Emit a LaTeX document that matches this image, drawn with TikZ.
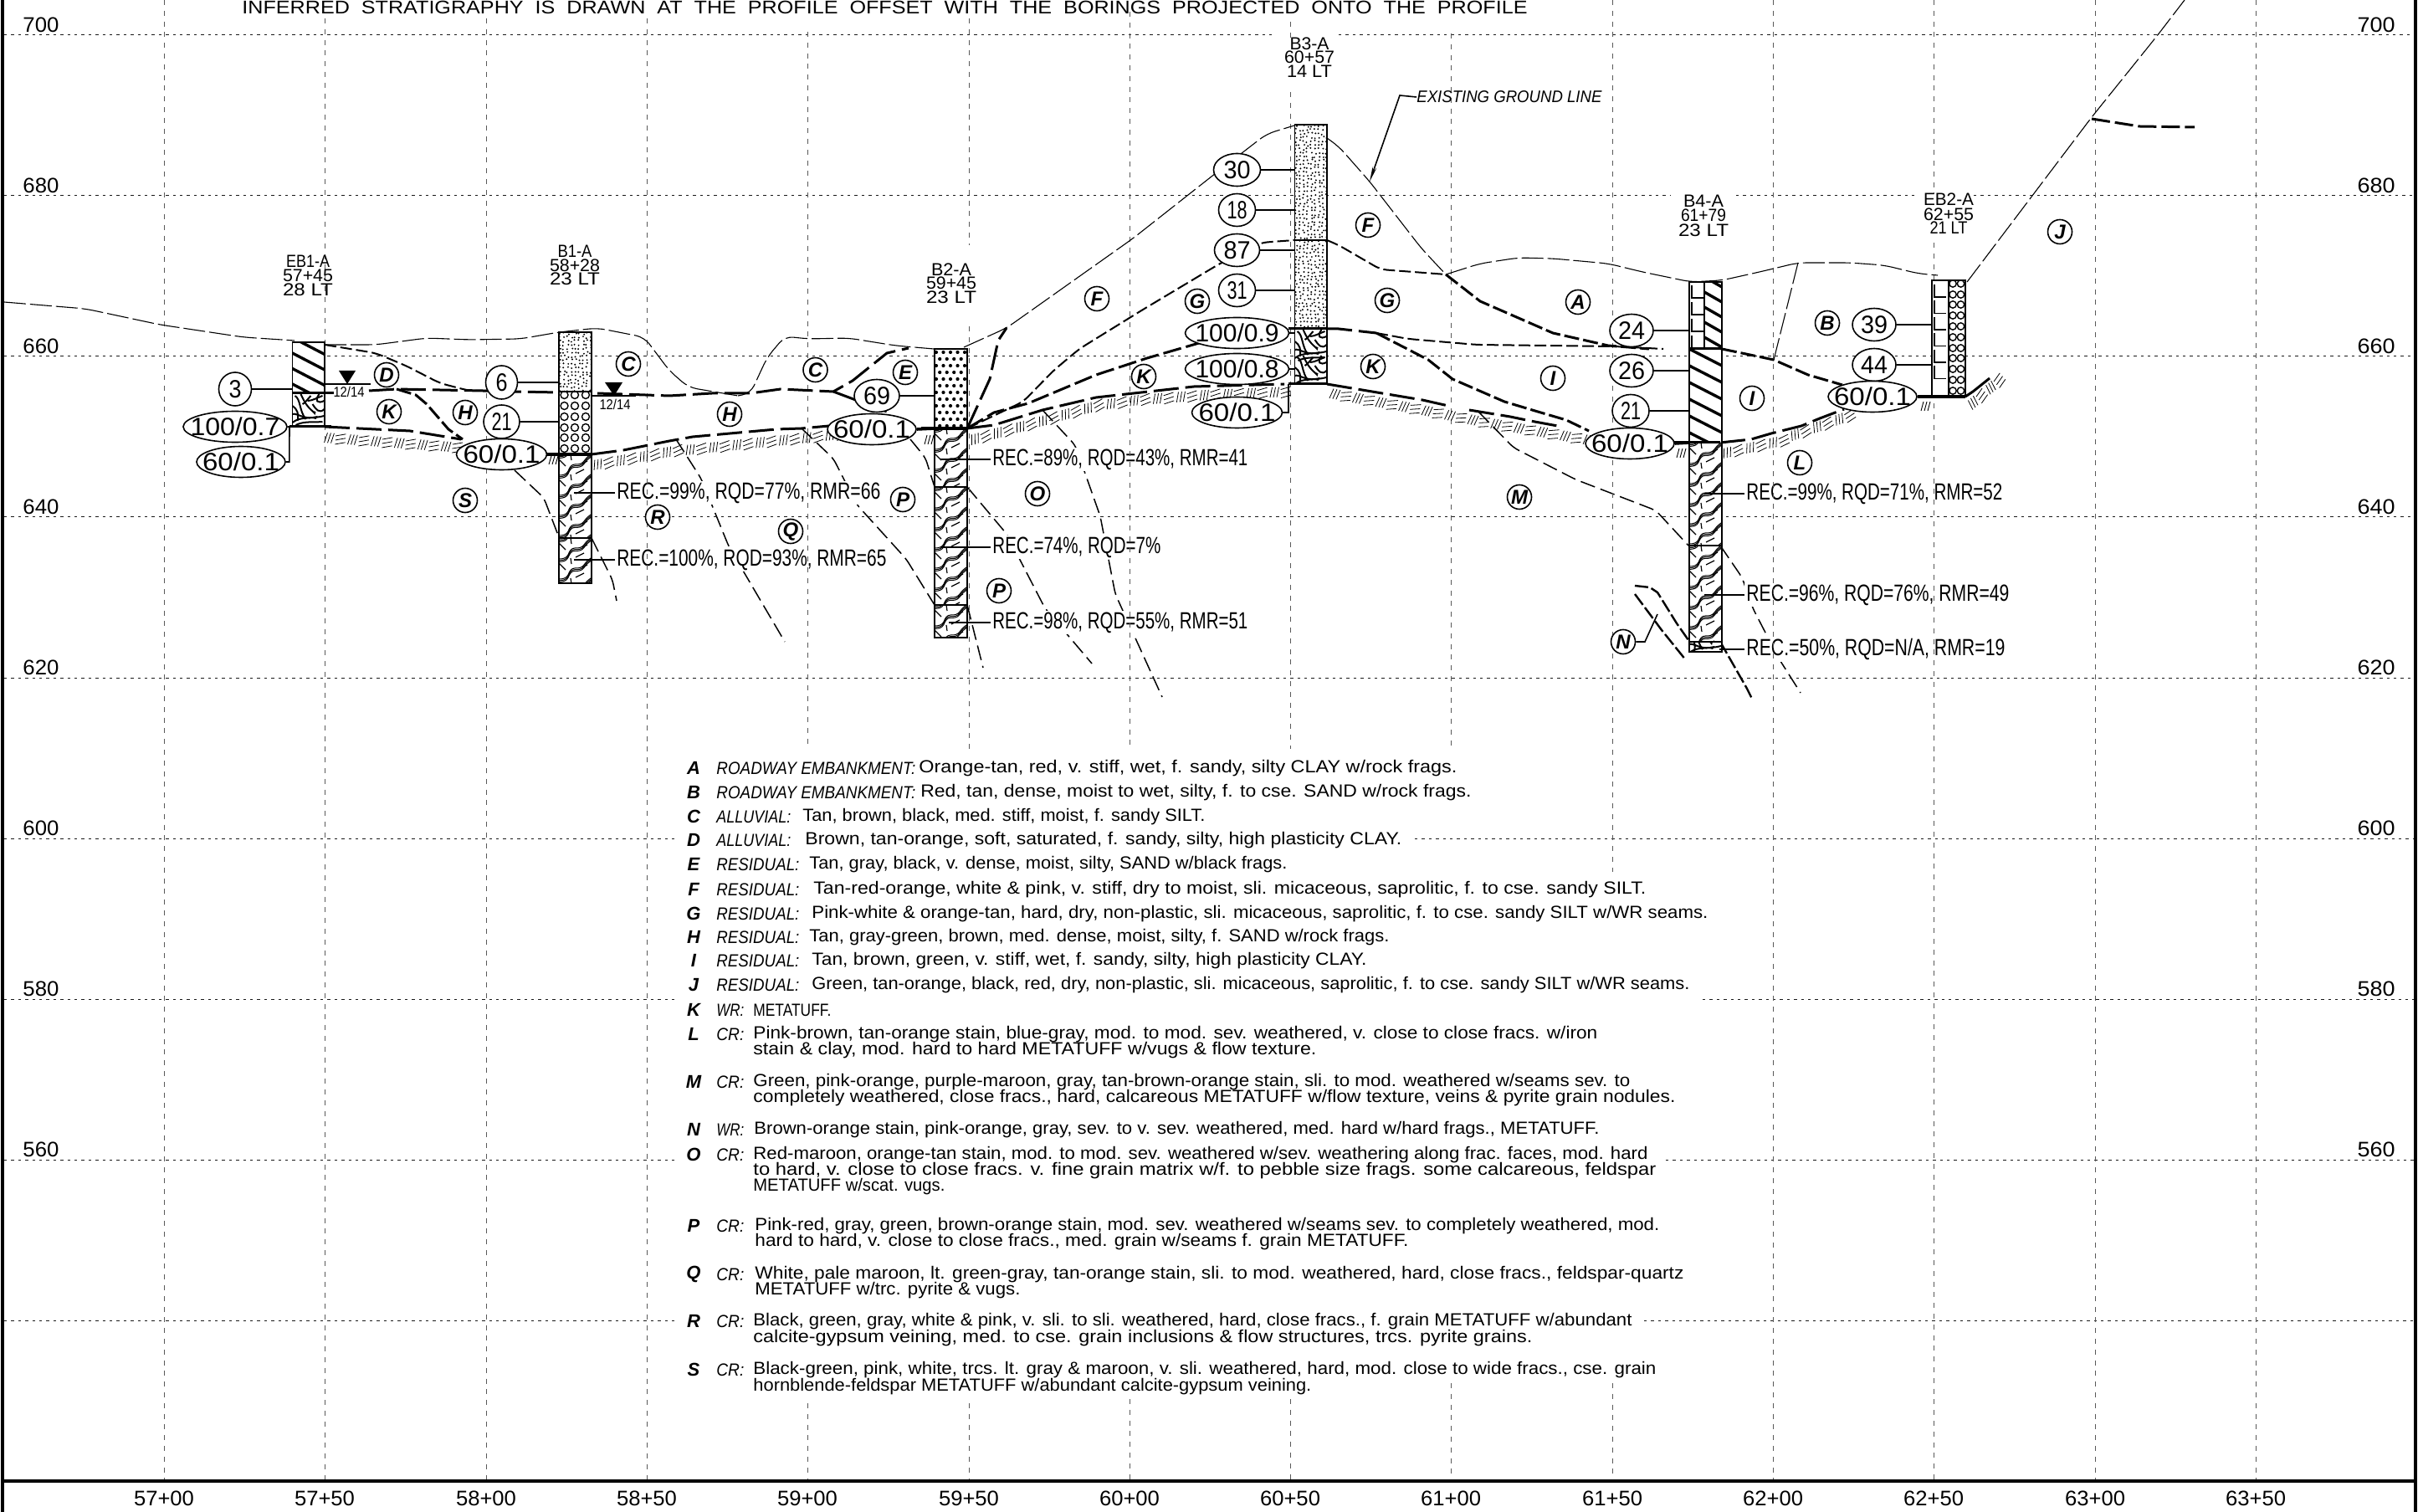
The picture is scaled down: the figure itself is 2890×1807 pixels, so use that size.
\documentclass[tikz,border=0pt]{standalone}
\usepackage{fontspec}
\usepackage{graphicx}
\setmainfont{Liberation Sans}
\usetikzlibrary{shapes.geometric,decorations.markings,arrows.meta}
\newcommand\FW[2]{\resizebox{\dimexpr #1pt*5/10\relax}{\height}{#2}}
\newcommand\ZF[2]{\makebox[0pt][c]{\raisebox{-.5\height}[0pt][0pt]{\FW{#1}{#2}}}}
\tikzset{
 gridh/.style={line width=.5pt,dash pattern=on 1.7pt off 2.5pt,black!90},
 gridv/.style={line width=.45pt,dash pattern=on 3pt off 3.4pt,black!65},
 groundl/.style={line width=.55pt,dash pattern=on 13pt off 2.5pt,rounded corners=5pt},
 boldl/.style={line width=1.5pt,dash pattern=on 15pt off 4pt},
 medl/.style={line width=1pt,dash pattern=on 7pt off 2.5pt,rounded corners=4pt},
 rockl/.style={line width=.75pt,dash pattern=on 9pt off 3.5pt,rounded corners=3pt},
 lead/.style={line width=.8pt},
 ell/.style={ellipse,draw,fill=white,inner sep=0pt,line width=.8pt,minimum height=18.5pt,font=\fontsize{15}{15}\selectfont},
 tag/.style={circle,draw,fill=white,inner sep=0pt,line width=.8pt,minimum size=14.5pt,font=\fontsize{12}{12}\selectfont\bfseries\itshape},
 lgd/.style={anchor=west,inner sep=0pt,font=\fontsize{10.5}{10.5}\selectfont},
 lett/.style={inner sep=0pt,font=\fontsize{11}{11}\selectfont\bfseries\itshape},
 rect/.style={anchor=west,inner sep=1pt,fill=white,font=\fontsize{14}{14}\selectfont},
 bor/.style={inner sep=0pt,font=\fontsize{10.5}{10.5}\selectfont},
 elev/.style={inner sep=0pt,font=\fontsize{12.6}{12.6}\selectfont},
 colbox/.style={draw,line width=.9pt},
 rockhatch/.style={postaction={decorate},decoration={markings,mark=between positions 0 and 1 step 14pt with {
   \draw[line width=.4pt] (0,6)--(3,-6) (4,6)--(7,-6) (8,6)--(11,-6) (13,-3)--(25,-6) (13,2)--(25,-1) (13,7)--(25,4);}}},
}
\newcommand\LT[5]{\node[lgd] (#1) at (#2,#4) {\FW{\numexpr #3-#2\relax}{#5}};}
\newcommand\RT[5]{\node[rect] (#1) at (#2,{#4+2}) {\FW{\numexpr #3-#2\relax}{#5}};}
\newcommand\Clay[7]{\begin{scope}\clip (#1,#2) rectangle (#3,#4);
 \foreach \k in {-2,...,8} \draw[line width=1.7pt] (#1,{#2+#7+\k*#5}) -- (#3,{#2+#7+\k*#5+#6});
 \end{scope}}
\newcommand\Stip[7]{\begin{scope}\clip (#1,#2) rectangle (#3,#4);
 \foreach \i in {0,...,#5} \foreach \j in {0,...,#6}
  \fill ({#1+\i*#7+0.6*#7*rnd},{#2+\j*#7+0.6*#7*rnd}) circle (1.1);
 \end{scope}}
\newcommand\Rock[4]{\begin{scope}\clip (#1,#2) rectangle (#3,#4);
 \foreach \k in {-2,...,6} {\begin{scope}[shift={(#1,{#2+\k*24})}]
  \foreach \o in {0,1.7,3.4} \draw[line width=.5pt,yshift=-\o*0.5pt] (0,25) .. controls (5,25) and (9,24) .. (11,20) .. controls (13,15) and (15,12) .. (19,12) .. controls (24,12) and (27,12) .. (30,8) .. controls (33,4) and (35,2) .. (38,0);
  \draw[line width=.6pt] (0,30)--(8,38) (14,24)--(15,31) (20,23)--(30,18) (28,11)--(34,8);
 \end{scope}}
 \end{scope}}
\newcommand\Swirl[2]{\begin{scope}[shift={(#1,#2)},line width=1pt]
 \draw (3,2) .. controls (10,6) and (8,20) .. (16,30);
 \draw (10,0) .. controls (14,8) and (16,14) .. (26,22);
 \draw (22,2) .. controls (18,6) and (16,10) .. (12,12);
 \draw (32,0) .. controls (26,8) and (30,12) .. (38,8);
 \draw (0,14) .. controls (6,18) and (8,24) .. (6,32);
 \draw (24,12) .. controls (28,18) and (32,24) .. (38,18);
 \draw (18,8) .. controls (24,8) and (30,4) .. (36,2);
 \draw (0,24) .. controls (4,22) and (14,30) .. (24,28);
 \draw (0,34) .. controls (10,26) and (24,30) .. (38,26);
 \draw (4,37) .. controls (14,32) and (24,34) .. (36,33);
 \fill (23,20)--(28,21)--(27,25)--cycle;
 \fill (20,28)--(30,26)--(28,30)--cycle;
 \end{scope}}
\newcommand\Lmarks[4]{\foreach \k in {0,...,#4} \draw[line width=.7pt] (#1,{#2+\k*#3}) -- (#1,{#2+\k*#3+15}) -- ({#1+14},{#2+\k*#3+15});}
\begin{document}
\begin{tikzpicture}[x=0.5pt,y=-0.5pt,line cap=butt]
\useasboundingbox (0,0) rectangle (2890,1807);
\clip (0,0) rectangle (2890,1807);
\fill[white] (0,0) rectangle (2890,1807);
\pgfmathsetseed{11}
% ---- rock boundaries under the grid
\draw[rockl] (615,562)--(650,595)--(668,642);
\draw[rockl] (707,643)--(732,693)--(737,718);
\draw[rockl] (808,525)--(838,572)--(871,653)--(938,767);
\draw[rockl] (958,512)--(996,548)--(1024,603)--(1083,668)--(1117,723);
\draw[rockl] (1088,525)--(1106,547)--(1117,582);
\draw[rockl] (1156,582)--(1203,638)--(1249,727)--(1305,793);
\draw[rockl] (1156,723)--(1175,798);
\draw[rockl] (1246,490)--(1285,532)--(1315,617)--(1333,710)--(1389,833);
\draw[rockl] (1767,492)--(1809,535)--(1883,573)--(1979,610)--(2018,652);
\draw[rockl] (2056,652)--(2082,690)--(2095,727)--(2126,787)--(2152,828);
% ---- core-run labels (they interrupt the rock boundaries)
\RT{ra}{735}{1050}{587}{REC.=99\%, RQD=77\%, RMR=66}
\RT{rb}{735}{1057}{667}{REC.=100\%, RQD=93\%, RMR=65}
\RT{rc}{1184}{1489}{547}{REC.=89\%, RQD=43\%, RMR=41}
\RT{rd}{1184}{1385}{652}{REC.=74\%, RQD=7\%}
\RT{re}{1184}{1489}{742}{REC.=98\%, RQD=55\%, RMR=51}
\RT{rf}{2085}{2391}{588}{REC.=99\%, RQD=71\%, RMR=52}
\RT{rg}{2085}{2399}{709}{REC.=96\%, RQD=76\%, RMR=49}
\RT{rh}{2085}{2394}{774}{REC.=50\%, RQD=N/A, RMR=19}
% ---- grid
\foreach \y/\a/\b in {42/5/1522,42/1600/2885,234/5/1996,234/2075/2289,234/2359/2885,426/5/2885,618/5/2885,810/5/2885,1002/5/808,1002/1691/2885,1194/5/806,1194/2035/2885,1386/5/810,1386/1991/2885,1578/5/810,1578/1965/2885}
 \draw[gridh] (\a,\y)--(\b,\y);
\foreach \x/\a/\b in {196/0/1768,388/22/1768,581/22/1768,773/22/1768,965/38/895,965/1677/1768,1158/22/293,1158/390/895,1158/1677/1768,1350/14/895,1350/1672/1768,1542/26/45,1542/110/895,1542/1672/1768,1734/40/895,1734/1653/1768,1927/0/1042,1927/1653/1768,2119/0/1768,2311/0/232,2311/290/1768,2504/0/1768,2696/0/1768}
 \draw[gridv] (\x,\a)--(\x,\b);
% ---- hatching along top of rock
\path[rockhatch] (388,523)--(553,535);
\path[rockhatch] (709,556)--(800,540)--(994,520);
\path[rockhatch] (1160,526)--(1239,505)--(1310,485)--(1361,478)--(1443,472)--(1545,468);
\path[rockhatch] (1590,470)--(1700,490)--(1776,505)--(1894,525);
\path[rockhatch] (2059,542)--(2115,530)--(2207,498);
\path[rockhatch] (2354,485)--(2383,460);
\draw[line width=.45pt] (656,555)--(659,545) (660,555)--(663,545) (664,555)--(667,545);
\draw[line width=.45pt] (1105,531)--(1108,520) (1109,531)--(1112,520) (1113,531)--(1116,520);
\draw[line width=.45pt] (2004,547)--(2007,536) (2008,547)--(2011,536) (2012,547)--(2015,536);
\draw[line width=.45pt] (2296,491)--(2299,480) (2300,491)--(2303,480) (2304,491)--(2307,480);
% ---- existing ground line
\draw[groundl] (5,361)--(102,369)--(191,388)--(291,403)--(352,407);
\draw[groundl] (388,412)--(449,412)--(510,404)--(561,406)--(622,405)--(668,397)--(714,392)--(770,403)--(800,443)--(823,463)--(882,473);
\draw[groundl] (882,473)--(897,470)--(917,427)--(938,402)--(966,405)--(1014,404)--(1070,413)--(1116,417);
\draw[groundl] (1152,415)--(1203,392)--(1354,285)--(1453,207)--(1514,160)--(1547,150);
\draw[groundl] (1586,165)--(1600,175)--(1637,217)--(1699,297)--(1728,328);
\draw[groundl] (1728,328)--(1769,315)--(1815,308)--(1856,309)--(1922,315)--(1963,325)--(2021,337)--(2058,335)--(2103,325)--(2149,314)--(2211,314)--(2252,317)--(2293,327)--(2316,329);
\draw[groundl] (2149,314)--(2120,430);
\draw[groundl] (2351,337)--(2500,140)--(2578,43)--(2611,0);
\draw[boldl,dash pattern=on 11pt off 3pt] (2500,142)--(2557,151)--(2623,152);
% ---- soil boundaries
\draw[medl] (388,412)--(449,422)--(485,437)--(526,458)--(561,467)--(582,467);
\draw[boldl] (388,470)--(400,470);
\draw[boldl] (441,467)--(474,465)--(577,467)--(612,468)--(668,469);
\draw[boldl] (714,470)--(800,473)--(851,470)--(897,470)--(933,465)--(996,468)--(1019,455)--(1060,422)--(1086,416);
\draw[boldl] (996,468)--(1060,492);
\draw[boldl,dash pattern=on 9pt off 2.5pt] (474,465)--(497,472)--(510,483)--(536,513)--(553,525);
\draw[boldl] (1156,512)--(1183,453)--(1193,407)--(1203,392);
\draw[medl] (1156,512)--(1223,480)--(1259,443)--(1290,417)--(1366,370)--(1458,315)--(1507,290)--(1547,287);
\draw[medl] (1586,287)--(1600,293)--(1650,322)--(1728,328);
\draw[boldl,dash pattern=on 11pt off 3pt] (1156,512)--(1188,493)--(1229,482)--(1310,448)--(1371,428)--(1433,410)--(1540,395);
\draw[boldl] (1586,393)--(1600,393)--(1645,398);
\draw[medl] (1645,398)--(1683,405)--(1765,412)--(1930,414)--(1988,417);
\draw[boldl,dash pattern=on 9pt off 2.5pt] (1645,398)--(1707,430)--(1736,453)--(1798,480)--(1838,492)--(1872,502)--(1899,515);
\draw[boldl,dash pattern=on 9pt off 2.5pt] (1728,328)--(1769,360)--(1856,398)--(1922,413)--(1971,417);
\draw[boldl,dash pattern=on 9pt off 2.5pt] (2058,417)--(2120,430)--(2161,448)--(2202,460);
% ---- top of rock
\draw[boldl] (388,510)--(490,515)--(551,525);
\draw[boldl] (707,543)--(745,538)--(800,527)--(828,522)--(928,513)--(958,512)--(991,509);
\draw[boldl] (1156,512)--(1188,508)--(1246,490)--(1310,475)--(1427,462)--(1535,459);
\draw[boldl] (1586,459)--(1700,478)--(1731,485);
\draw[boldl] (1756,490)--(1805,498)--(1829,503)--(1867,510);
\draw[boldl] (2056,529)--(2093,525)--(2117,518)--(2153,509)--(2175,500)--(2204,489);
\draw[line width=1.5pt] (2349,474)--(2358,468)--(2378,452);
% ---- weathered-rock lines near N
\draw[boldl,dash pattern=on 8pt off 2pt,line width=1.2pt] (1954,700)--(1972,702)--(1981,708)--(2004,745)--(2018,765);
\draw[boldl,dash pattern=on 8pt off 2pt,line width=1.2pt] (1954,710)--(1986,753)--(2015,789);
\draw[boldl,dash pattern=on 8pt off 2pt,line width=1.2pt] (2056,767)--(2088,823)--(2094,835);
% ---- borings
\fill[white] (349.5,409) rectangle (388,510);
\Clay{349.5}{409}{388}{470}{18.5}{20}{13}
\begin{scope}\clip (349.5,470) rectangle (388,510); \Swirl{349.5}{471} \end{scope}
\draw[colbox] (349.5,409) rectangle (388,510);
\draw[line width=1.5pt] (349.5,470)--(396,470);
\draw[line width=1.5pt] (346,510)--(396,510);

\fill[white] (668,397) rectangle (707,697);
\Stip{668}{397}{707}{468}{8}{15}{4.6}
\foreach \r in {472,485,498,511,523,536} \foreach \c in {674.5,687,700} \draw[line width=.7pt] (\c,\r) circle (4.5);
\Rock{668}{543}{707}{643}
\Rock{668}{643}{707}{697}
\draw[colbox] (668,397) rectangle (707,697);
\draw[line width=.9pt] (668,468)--(707,468) (668,643)--(707,643);
\draw[line width=1.8pt] (653,543)--(707,543);

\fill[white] (1117,417) rectangle (1156,762);
\begin{scope}\clip (1117,417) rectangle (1156,512);
\foreach \j in {0,...,11} \foreach \i in {0,...,4} \fill ({1119+\i*8.5+mod(\j,2)*4.2},{421+\j*8}) circle (2.1);
\end{scope}
\Rock{1117}{512}{1156}{582}
\Rock{1117}{582}{1156}{723}
\Rock{1117}{723}{1156}{762}
\draw[colbox] (1117,417) rectangle (1156,762);
\draw[line width=1pt] (1117,582)--(1156,582) (1117,723)--(1156,723);
\draw[line width=1.8pt] (1101,512)--(1156,512);

\fill[white] (1547.5,149) rectangle (1586,459);
\Stip{1547.5}{149}{1586}{393}{8}{53}{4.6}
\begin{scope}\clip (1547.5,393) rectangle (1586,459); \Swirl{1547.5}{394} \Swirl{1547.5}{425} \end{scope}
\draw[colbox] (1547.5,149) rectangle (1586,459);
\draw[line width=1pt] (1547,287)--(1586,287);
\draw[line width=1.5pt] (1540,393)--(1586,393);
\draw[line width=1.5pt] (1540,459)--(1586,459);

\fill[white] (2019,337) rectangle (2058,779);
\Lmarks{2022}{341}{20}{3}
\Clay{2037}{337}{2058}{417}{18}{12}{12}
\Clay{2019}{417}{2058}{529}{20}{20}{0}
\Rock{2019}{529}{2058}{652}
\Rock{2019}{652}{2058}{767}
\begin{scope}\clip (2019,767) rectangle (2058,779); \Swirl{2019}{746} \end{scope}
\draw[colbox] (2019,337) rectangle (2058,779);
\draw[line width=.7pt] (2037,337)--(2037,417);
\draw[line width=1.5pt] (2019,417)--(2058,417);
\draw[line width=1.5pt] (2001,529)--(2056,529);
\draw[line width=1pt] (2019,652)--(2058,652) (2019,767)--(2058,767);

\fill[white] (2309,335) rectangle (2349,474);
\Lmarks{2312}{340}{19.5}{5}
\foreach \r in {339,352,364,377,390,403,416,428,441,454,467} \foreach \c in {2334,2343.5} \draw[line width=.7pt] (\c,\r) circle (4.2);
\draw[line width=1pt] (2309,335) rectangle (2349,474) (2329,335)--(2329,474);
\draw[line width=1.8pt] (2292,474)--(2349,474);
% ---- column reference coordinates
\coordinate (cEB) at (349.5,0); \coordinate (cBa) at (668,0); \coordinate (cBb) at (1117,0);
\coordinate (cBc) at (1547.5,0); \coordinate (cBd) at (2019,0); \coordinate (cEC) at (2309,0);
% ---- blow-count nodes
\node[ell,minimum width=19.5pt,minimum height=20pt] (n3) at (281,465) {\ZF{15}{3}};
\node[ell,minimum width=62pt] (n100a) at (281,510) {\ZF{107}{100/0.7}};
\node[ell,minimum width=53pt] (n60a) at (288,552) {\ZF{92}{60/0.1}};
\node[ell,minimum width=19pt,minimum height=20pt] (n6) at (599.5,457) {\ZF{14}{6}};
\node[ell,minimum width=21.5pt,minimum height=20pt] (n21a) at (599.5,504) {\ZF{24}{21}};
\node[ell,minimum width=54pt] (n60b) at (599.5,543) {\ZF{92}{60/0.1}};
\node[ell,minimum width=27pt,minimum height=19.5pt] (n69) at (1048,473) {\ZF{32}{69}};
\node[ell,minimum width=53pt] (n60c) at (1042,513) {\ZF{92}{60/0.1}};
\node[ell,minimum width=28pt,minimum height=19.5pt] (n30) at (1478.5,203) {\ZF{32}{30}};
\node[ell,minimum width=22pt,minimum height=19.5pt] (n18) at (1478.5,251) {\ZF{24}{18}};
\node[ell,minimum width=27pt,minimum height=19.5pt] (n87) at (1478.5,299) {\ZF{32}{87}};
\node[ell,minimum width=22pt,minimum height=19.5pt] (n31) at (1478.5,347) {\ZF{24}{31}};
\node[ell,minimum width=62pt] (n100b) at (1478.5,398) {\ZF{100}{100/0.9}};
\node[ell,minimum width=62pt] (n100c) at (1478.5,441) {\ZF{100}{100/0.8}};
\node[ell,minimum width=54pt] (n60d) at (1478.5,493) {\ZF{92}{60/0.1}};
\node[ell,minimum width=26pt,minimum height=19.5pt] (n24) at (1950,395) {\ZF{32}{24}};
\node[ell,minimum width=26pt,minimum height=19.5pt] (n26) at (1950,443) {\ZF{32}{26}};
\node[ell,minimum width=22pt,minimum height=19.5pt] (n21b) at (1949,491) {\ZF{24}{21}};
\node[ell,minimum width=53pt] (n60e) at (1948,530) {\ZF{92}{60/0.1}};
\node[ell,minimum width=26pt,minimum height=19.5pt] (n39) at (2240,388) {\ZF{32}{39}};
\node[ell,minimum width=26pt,minimum height=19.5pt] (n44) at (2240,436) {\ZF{32}{44}};
\node[ell,minimum width=53pt] (n60f) at (2238,474) {\ZF{92}{60/0.1}};
% ---- leaders
\foreach \n/\c in {n3/cEB,n100a/cEB,n6/cBa,n21a/cBa,n69/cBb,n30/cBc,n18/cBc,n87/cBc,n31/cBc,n100b/cBc,n100c/cBc,n24/cBd,n26/cBd,n21b/cBd,n39/cEC,n44/cEC}
 \draw[lead] (\n.east) -- (\n.east -| \c);
\draw[lead] (n60a.east) -- ++(4,0) -- (346,510);
\draw[lead] (n60d.east) -- (1540,493) -- (1540,459);
\draw[line width=1.8pt] (n60b.east) -- (653,543);
\draw[line width=1.8pt] (n60c.east) -- (1117,512);
\draw[line width=1.8pt] (n60e.east) -- (2019,529);
\draw[line width=1.8pt] (n60f.east) -- (2309,474);
\foreach \r/\d in {ra/49,rb/49,rc/60,rd/60,re/50,rf/48,rg/48,rh/30}
 \draw[lead] (\r.west) -- ++(-\d,0);
% ---- water table
\coordinate (wa) at (415,459); \coordinate (wb) at (734,473);
\fill (405,443)--(425,443)--(wa)--cycle;
\fill (723,457)--(744,457)--(wb)--cycle;
\draw[lead] (388,459)--(443,459);
\draw[lead] (707,473)--(760,473);
\node[inner sep=0pt,font=\fontsize{8.5}{8.5}\selectfont,fill=white] (wta) at (417,468.5) {\FW{37}{12/14}};
\node[inner sep=0pt,font=\fontsize{8.5}{8.5}\selectfont] (wtb) at (735,483) {\FW{37}{12/14}};
% ---- stratum tags
\foreach \n/\x/\y/\l in {ta/462/448/D,tb/465/492/K,tc/556/493/H,td/751/435/C,te/556/598/S,tf/786/618/R,tg/974.5/442/C,th/1082/445/E,ti/1311/357/F,tj/1431/360/G,tk/1367/450/K,tl/872/495/H,tm/1079/597/P,tn/1240/590/O,to/945/635/Q,tp/1194/706/P,tq/1635/269/F,tr/1658/359/G,ts/1886/361/A,tt/1641/438/K,tu/1856/452/I,tv/2094/476/I,tw/2184/386/B,tx/2462/277/J,ty/2151/553/L,tz/1816/594/M,tzz/1940/767/N}
 \node[tag] (\n) at (\x,\y) {\l};
\coordinate (ne) at (1981,734);
\draw[lead] (tzz.east) -- (1966,767) -- (ne);
% ---- existing ground line leader
\node[anchor=west,inner sep=0pt,font=\fontsize{10}{10}\selectfont\itshape] (egl) at (1693,116) {\FW{221}{EXISTING GROUND LINE}};
\coordinate (eglp) at (1637,217);
\draw[lead,-{Stealth[length=9pt,width=2.5pt]}] (egl.west) -- (1673,114) -- (eglp);
% ---- boring labels
\foreach \n/\x/\y/\w/\t in {
 ba/368/312/52/EB1-A,bb/368/329/60/57+45,bc/368/346/60/28 LT,
 bd/687/300/41/B1-A,be/687/317/60/58+28,bf/687/333/60/23 LT,
 bg/1137/322/48/B2-A,bh/1137/338/60/59+45,bi/1137/355/60/23 LT,
 bj/1565/52/47/B3-A,bk/1565/68/60/60+57,bl/1565/85/54/14 LT,
 bm/2036/240/48/B4-A,bn/2036/257/54/61+79,bo/2036/275/60/23 LT,
 bp/2329/238/60/EB2-A,bq/2329/256/60/62+55,br/2329/272/45/21 LT}
 \node[bor] (\n) at (\x,\y) {\FW{\w}{\t}};
% ---- title
\node[anchor=base west,inner sep=0pt,font=\fontsize{11}{11}\selectfont] (title) at (289,17) {\FW{1536}{INFERRED~~STRATIGRAPHY~~IS~~DRAWN~~AT~~THE~~PROFILE~~OFFSET~~WITH~~THE~~BORINGS~~PROJECTED~~ONTO~~THE~~PROFILE}};
% ---- elevations
\foreach \y/\t in {30/700,222/680,414/660,606/640,798/620,990/600,1182/580,1374/560} {
 \node[elev] (ell\t) at (49,\y) {\FW{43}{\t}};
 \node[elev] (elr\t) at (2840,\y) {\FW{45}{\t}};
}
\foreach \x/\t in {196/57+00,388/57+50,581/58+00,773/58+50,965/59+00,1158/59+50,1350/60+00,1542/60+50,1734/61+00,1927/61+50,2119/62+00,2311/62+50,2504/63+00,2696/63+50}
 \node[elev] (st\t) at (\x,1791) {\FW{72}{\t}};
% ---- legend
\foreach \n/\y/\t in {A/918/A,B/947/B,C/976/C,D/1004/D,E/1033/E,F/1063/F,G/1092/G,H/1120/H,I/1148/I,J/1177/J,K/1207/K,L/1236/L,M/1293/M,N/1350/N,O/1380/O,P/1465/P,Q/1523/Q,R/1579/R,S/1637/S}
 \node[lett] (lg\n) at (829,\y) {\t};
\LT{pa}{856}{1094}{918}{\itshape ROADWAY EMBANKMENT:}
\LT{qa}{1098}{1741}{918}{Orange-tan, red, v. stiff, wet, f. sandy, silty CLAY w/rock frags.}
\LT{pb}{856}{1094}{947}{\itshape ROADWAY EMBANKMENT:}
\LT{qb}{1100}{1758}{947}{Red, tan, dense, moist to wet, silty, f. to cse. SAND w/rock frags.}
\LT{pc}{856}{945}{976}{\itshape ALLUVIAL:}
\LT{qc}{959}{1440}{976}{Tan, brown, black, med. stiff, moist, f. sandy SILT.}
\LT{pd}{856}{945}{1004}{\itshape ALLUVIAL:}
\LT{qd}{962}{1675}{1004}{Brown, tan-orange, soft, saturated, f. sandy, silty, high plasticity CLAY.}
\LT{pe}{856}{955}{1033}{\itshape RESIDUAL:}
\LT{qe}{967}{1538}{1033}{Tan, gray, black, v. dense, moist, silty, SAND w/black frags.}
\LT{pf}{856}{955}{1063}{\itshape RESIDUAL:}
\LT{qf}{972}{1967}{1063}{Tan-red-orange, white \& pink, v. stiff, dry to moist, sli. micaceous, saprolitic, f. to cse. sandy SILT.}
\LT{pg}{856}{955}{1092}{\itshape RESIDUAL:}
\LT{qg}{970}{2041}{1092}{Pink-white \& orange-tan, hard, dry, non-plastic, sli. micaceous, saprolitic, f. to cse. sandy SILT w/WR seams.}
\LT{ph}{856}{955}{1120}{\itshape RESIDUAL:}
\LT{qh}{967}{1660}{1120}{Tan, gray-green, brown, med. dense, moist, silty, f. SAND w/rock frags.}
\LT{pi}{856}{955}{1148}{\itshape RESIDUAL:}
\LT{qi}{970}{1633}{1148}{Tan, brown, green, v. stiff, wet, f. sandy, silty, high plasticity CLAY.}
\LT{pj}{856}{955}{1177}{\itshape RESIDUAL:}
\LT{qj}{970}{2019}{1177}{Green, tan-orange, black, red, dry, non-plastic, sli. micaceous, saprolitic, f. to cse. sandy SILT w/WR seams.}
\LT{pk}{856}{889}{1207}{\itshape WR:}
\LT{qk}{900}{993}{1207}{METATUFF.}
\LT{pl}{856}{889}{1236}{\itshape CR:}
\LT{ql}{900}{1909}{1236}{Pink-brown, tan-orange stain, blue-gray, mod. to mod. sev. weathered, v. close to close fracs. w/iron}
\LT{qll}{900}{1573}{1255}{stain \& clay, mod. hard to hard METATUFF w/vugs \& flow texture.}
\LT{pm}{856}{889}{1293}{\itshape CR:}
\LT{qm}{900}{1948}{1293}{Green, pink-orange, purple-maroon, gray, tan-brown-orange stain, sli. to mod. weathered w/seams sev. to}
\LT{qmm}{900}{2002}{1312}{completely weathered, close fracs., hard, calcareous METATUFF w/flow texture, veins \& pyrite grain nodules.}
\LT{pn}{856}{889}{1350}{\itshape WR:}
\LT{qn}{901}{1911}{1350}{Brown-orange stain, pink-orange, gray, sev. to v. sev. weathered, med. hard w/hard frags., METATUFF.}
\LT{po}{856}{889}{1380}{\itshape CR:}
\LT{qo}{900}{1969}{1380}{Red-maroon, orange-tan stain, mod. to mod. sev. weathered w/sev. weathering along frac. faces, mod. hard}
\LT{qoo}{900}{1979}{1399}{to hard, v. close to close fracs. v. fine grain matrix w/f. to pebble size frags. some calcareous, feldspar}
\LT{qooo}{900}{1129}{1418}{METATUFF w/scat. vugs.}
\LT{pp}{856}{889}{1465}{\itshape CR:}
\LT{qp}{902}{1983}{1465}{Pink-red, gray, green, brown-orange stain, mod. sev. weathered w/seams sev. to completely weathered, mod.}
\LT{qpp}{902}{1683}{1484}{hard to hard, v. close to close fracs., med. grain w/seams f. grain METATUFF.}
\LT{pq}{856}{889}{1523}{\itshape CR:}
\LT{qq}{902}{2012}{1523}{White, pale maroon, lt. green-gray, tan-orange stain, sli. to mod. weathered, hard, close fracs., feldspar-quartz}
\LT{qqq}{902}{1219}{1542}{METATUFF w/trc. pyrite \& vugs.}
\LT{pr}{856}{889}{1579}{\itshape CR:}
\LT{qr}{900}{1950}{1579}{Black, green, gray, white \& pink, v. sli. to sli. weathered, hard, close fracs., f. grain METATUFF w/abundant}
\LT{qrr}{900}{1831}{1599}{calcite-gypsum veining, med. to cse. grain inclusions \& flow structures, trcs. pyrite grains.}
\LT{ps}{856}{889}{1637}{\itshape CR:}
\LT{qs}{900}{1979}{1637}{Black-green, pink, white, trcs. lt. gray \& maroon, v. sli. weathered, hard, mod. close to wide fracs., cse. grain}
\LT{qss}{900}{1567}{1657}{hornblende-feldspar METATUFF w/abundant calcite-gypsum veining.}
% ---- frame
\draw[line width=2pt] (3,0)--(3,1807);
\draw[line width=2pt] (2887,0)--(2887,1807);
\draw[line width=2pt] (3,1770)--(2887,1770);
\end{tikzpicture}
\end{document}
